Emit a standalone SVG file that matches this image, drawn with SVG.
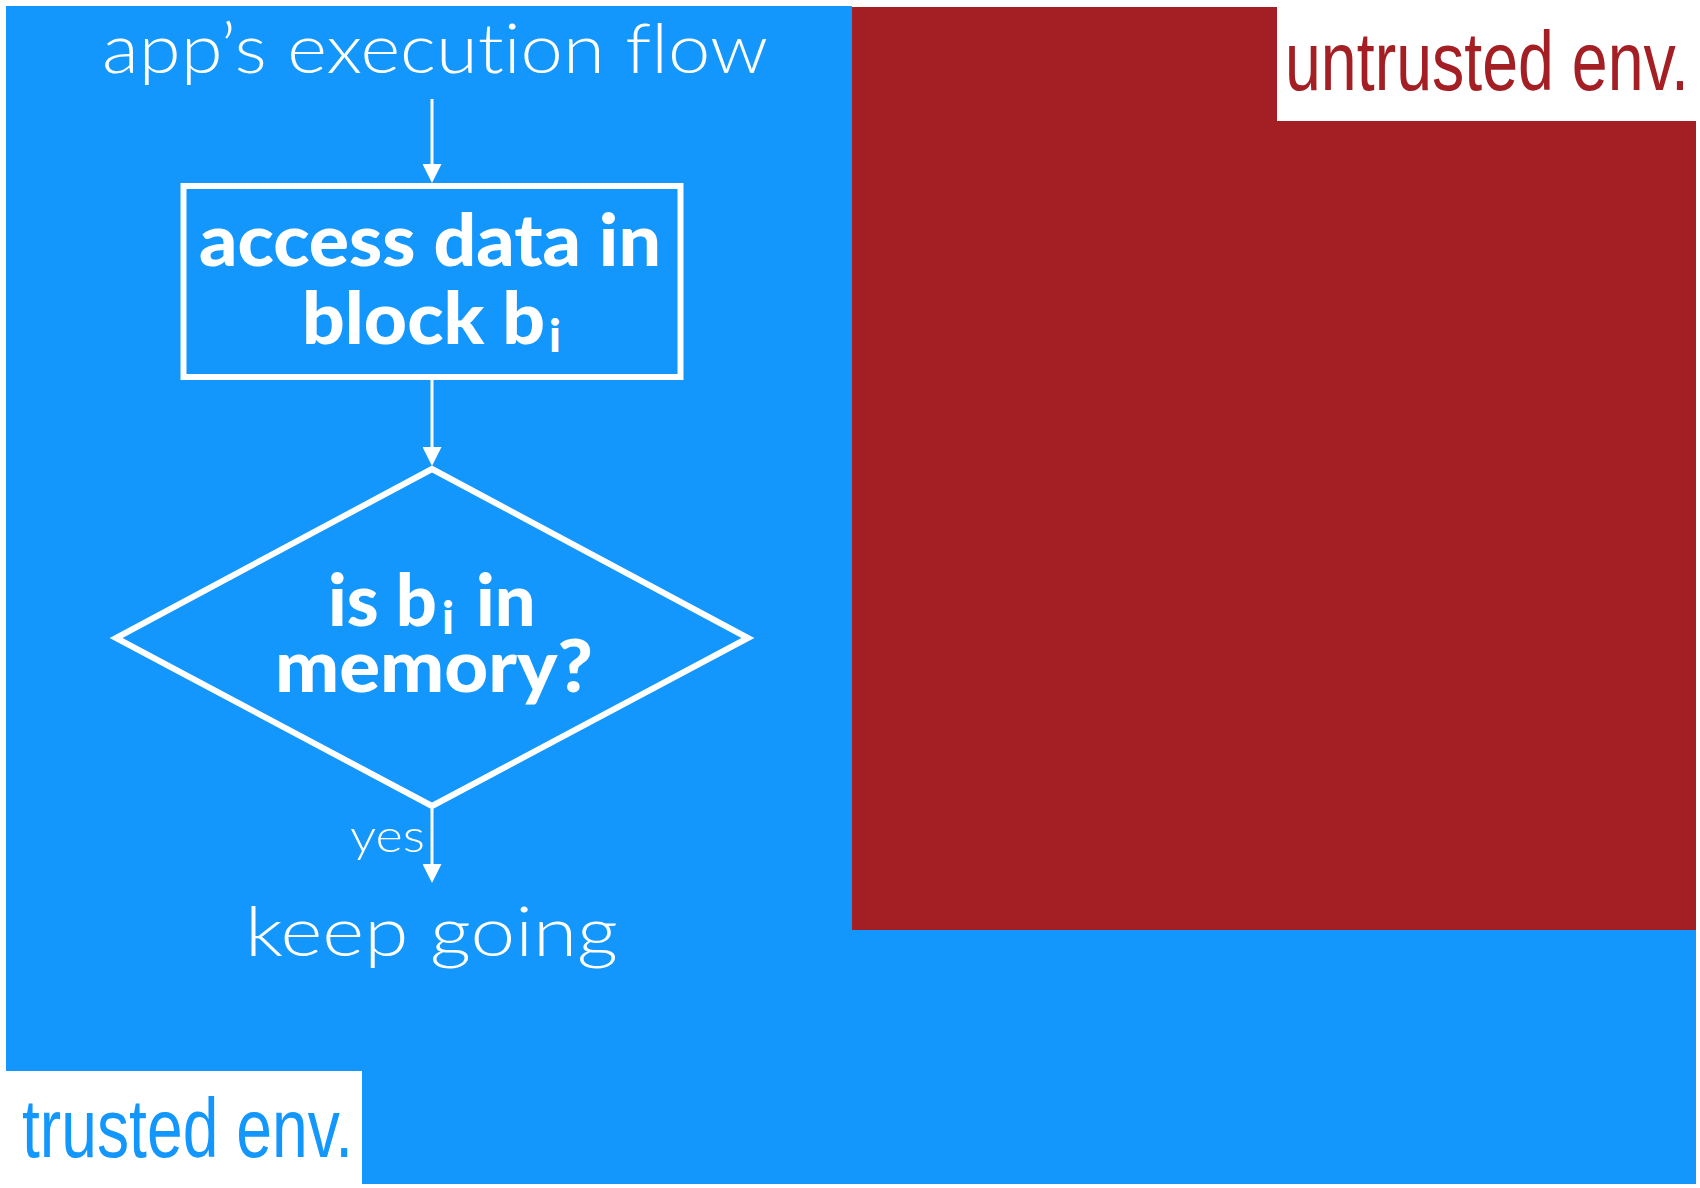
<svg xmlns="http://www.w3.org/2000/svg" width="1700" height="1188" viewBox="0 0 1700 1188">
  <style>
    text { font-variant-ligatures: none; }
    .light { font-family: Lato, "Open Sans", "Liberation Sans", sans-serif; font-weight: 300; fill: #ffffff; }
    .bold { font-family: Lato, "Open Sans", "Liberation Sans", sans-serif; font-weight: 900; fill: #ffffff; }
    .env { font-family: "Liberation Sans Narrow", "Liberation Sans", sans-serif; font-weight: 400; }
    .shape { fill: none; stroke: #ffffff; stroke-width: 6; }
    .flow { fill: none; stroke: #ffffff; stroke-width: 3; }
  </style>
  <defs>
    <marker id="arrow" markerUnits="userSpaceOnUse" markerWidth="19" markerHeight="19" refX="9" refY="9.5" orient="auto">
      <path d="M0,0 L19,9.5 L0,19 Z" fill="#ffffff"/>
    </marker>
  </defs>

  <rect width="1700" height="1188" fill="#ffffff"/>

  <!-- trusted region (blue) with its label notch at bottom-left -->
  <g id="trusted-env">
    <path d="M6,6 H852 V930 H1696 V1184 H362 V1071 H6 Z" fill="#1497fd"/>
    <text class="env" x="22" y="1157" font-size="84" fill="#1497fd" textLength="331" lengthAdjust="spacingAndGlyphs">trusted env.</text>
  </g>

  <!-- untrusted region (red) with its label notch at top-right -->
  <g id="untrusted-env">
    <path d="M852,7 H1277 V121 H1696 V930 H852 Z" fill="#a31f24"/>
    <text class="env" x="1285" y="90" font-size="84" fill="#a31f24" textLength="404" lengthAdjust="spacingAndGlyphs">untrusted env.</text>
  </g>

  <g id="start">
    <text class="light" x="102" y="73" font-size="68" textLength="666" lengthAdjust="spacingAndGlyphs">app’s execution flow</text>
  </g>

  <g id="access-block">
    <rect class="shape" x="183.5" y="186" width="497" height="191"/>
    <text class="bold" x="199" y="266" font-size="72" textLength="462" lengthAdjust="spacingAndGlyphs">access data in</text>
    <text class="bold" font-size="72"><tspan x="302" y="344" textLength="243" lengthAdjust="spacingAndGlyphs">block b</tspan><tspan x="549" y="352" font-size="46">i</tspan></text>
  </g>

  <g id="in-memory">
    <polygon class="shape" points="432,469 748,638 432,806 116,638"/>
    <text class="bold" font-size="72"><tspan x="328" y="626">is b</tspan><tspan x="442" y="634" font-size="46">i</tspan><tspan x="476" y="626">in</tspan></text>
    <text class="bold" x="275" y="692" font-size="72" textLength="318" lengthAdjust="spacingAndGlyphs">memory?</text>
  </g>

  <g id="keep-going">
    <text class="light" x="245" y="956" font-size="68" textLength="373" lengthAdjust="spacingAndGlyphs">keep going</text>
  </g>

  <g id="connectors">
    <line class="flow" x1="432" y1="99" x2="432" y2="173" marker-end="url(#arrow)"/>
    <line class="flow" x1="432" y1="380" x2="432" y2="456" marker-end="url(#arrow)"/>
    <line class="flow" x1="432" y1="809" x2="432" y2="873" marker-end="url(#arrow)"/>
    <text class="light" x="350" y="852" font-size="46" textLength="75" lengthAdjust="spacingAndGlyphs">yes</text>
  </g>
</svg>
